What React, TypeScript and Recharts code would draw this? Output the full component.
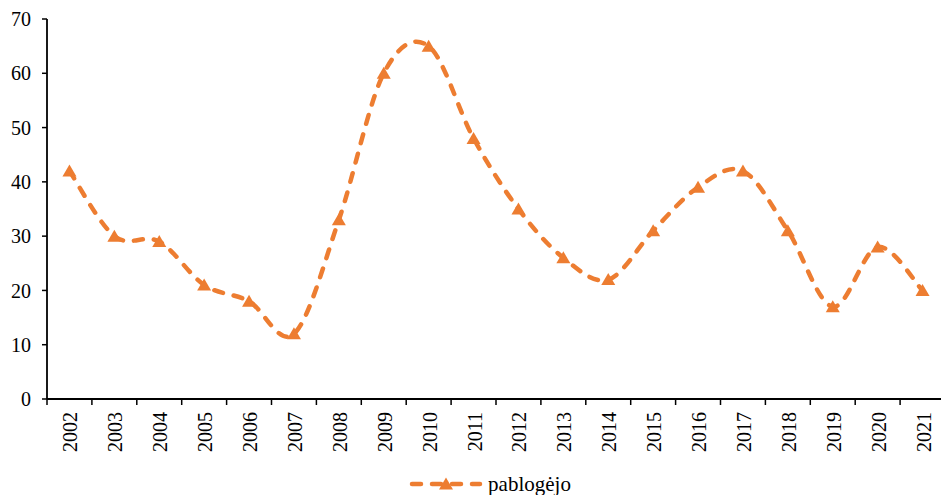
import {Legend, Line, LineChart, XAxis, YAxis} from "recharts";

const years = [
    "2002", "2003", "2004", "2005", "2006", "2007", "2008", "2009", "2010", "2011",
    "2012", "2013", "2014", "2015", "2016", "2017", "2018", "2019", "2020", "2021"
];
const pablogejo = [42, 30, 29, 21, 18, 12, 33, 60, 65, 48, 35, 26, 22, 31, 39, 42, 31, 17, 28, 20];
const yTicks = [0, 10, 20, 30, 40, 50, 60, 70];

const data = years.map((year, i) => ({year, pablogejo: pablogejo[i]}));

const WIDTH = 941;
const HEIGHT = 495;
// plot area runs a few pixels past the right edge, as in the original
const MARGIN = {top: 19, right: -4, left: 0, bottom: 0};
const Y_WIDTH = 47;
const ORANGE = "#ED7D31";
const FONT = "'Liberation Serif', 'Times New Roman', serif";
const BAND = (WIDTH - MARGIN.left - MARGIN.right - Y_WIDTH) / years.length;

// Excel-like smoothed line (cardinal spline, tension 0)
function excelCurve(context: any) {
    let pts: number[][] = [];
    return {
        areaStart() {},
        areaEnd() {},
        lineStart() {
            pts = [];
        },
        point(x: number, y: number) {
            pts.push([+x, +y]);
        },
        lineEnd() {
            const n = pts.length;
            if (!n) return;
            context.moveTo(pts[0][0], pts[0][1]);
            for (let i = 0; i < n - 1; i++) {
                const p0 = pts[Math.max(i - 1, 0)];
                const p1 = pts[i];
                const p2 = pts[i + 1];
                const p3 = pts[Math.min(i + 2, n - 1)];
                context.bezierCurveTo(
                    p1[0] + (p2[0] - p0[0]) / 6, p1[1] + (p2[1] - p0[1]) / 6,
                    p2[0] - (p3[0] - p1[0]) / 6, p2[1] - (p3[1] - p1[1]) / 6,
                    p2[0], p2[1]
                );
            }
        }
    };
}

const Triangle = ({cx, cy}: any) => {
    if (cx == null || cy == null) return null;
    return <path d={`M${cx},${cy - 6.5} L${cx + 7},${cy + 5.5} L${cx - 7},${cy + 5.5} Z`} fill={ORANGE}/>;
};

const YearTick = ({x, y, payload, index}: any) => (
    <g>
        <line x1={x - BAND / 2} x2={x - BAND / 2} y1={y - 8} y2={y - 2} stroke="#000" strokeWidth={1.5}/>
        {index === years.length - 1 && (
            <line x1={x + BAND / 2} x2={x + BAND / 2} y1={y - 8} y2={y - 2} stroke="#000" strokeWidth={1.5}/>
        )}
        <text
            x={0}
            y={0}
            transform={`translate(${x + 1},${y + 5}) rotate(-90)`}
            textAnchor="end"
            dominantBaseline="central"
            fontFamily={FONT}
            fontSize={20}
            fill="#000"
        >
            {payload.value}
        </text>
    </g>
);

const LegendContent = () => (
    <div style={{height: 40, display: "flex", justifyContent: "center", alignItems: "flex-end", paddingLeft: 34, boxSizing: "border-box"}}>
        <svg width={76} height={16} style={{marginBottom: 3}}>
            <line x1={4} x2={72} y1={8} y2={8} stroke={ORANGE} strokeWidth={4.5} strokeDasharray="9 11"
                  strokeLinecap="round"/>
            <path d="M38,1.5 L45,13.5 L31,13.5 Z" fill={ORANGE}/>
        </svg>
        <span style={{fontFamily: FONT, fontSize: 21, color: "#000", marginLeft: 4, lineHeight: "22px"}}>
            pablogėjo
        </span>
    </div>
);

const App = () => {
    return (
        <div style={{position: "absolute", left: 0, top: 0, width: WIDTH, height: HEIGHT, overflow: "hidden", background: "#fff"}}>
            <LineChart width={WIDTH} height={HEIGHT} data={data} margin={MARGIN}>
                <XAxis
                    dataKey="year"
                    scale="band"
                    interval={0}
                    height={56}
                    tickLine={false}
                    tick={<YearTick/>}
                    axisLine={{stroke: "#000", strokeWidth: 1.8}}
                />
                <YAxis
                    domain={[0, 70]}
                    ticks={yTicks}
                    width={Y_WIDTH}
                    tickSize={5}
                    tickMargin={11}
                    tickLine={{stroke: "#000", strokeWidth: 1.5}}
                    axisLine={{stroke: "#000", strokeWidth: 1.8}}
                    tick={{fill: "#000", fontFamily: FONT, fontSize: 20}}
                />
                <Legend verticalAlign="bottom" height={40} content={<LegendContent/>}/>
                <Line
                    dataKey="pablogejo"
                    name="pablogėjo"
                    type={excelCurve as any}
                    stroke={ORANGE}
                    strokeWidth={4.5}
                    strokeDasharray="9 11"
                    strokeLinecap="round"
                    dot={<Triangle/>}
                    activeDot={false}
                    isAnimationActive={false}
                />
            </LineChart>
        </div>
    );
};

export default App;
